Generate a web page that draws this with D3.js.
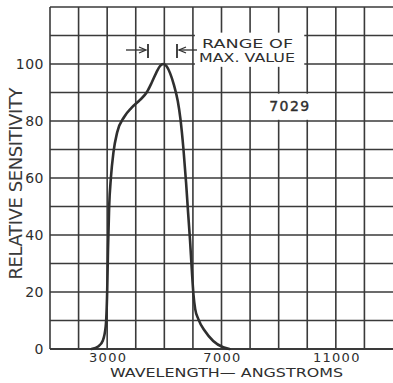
<!DOCTYPE html>
<html>
<head>
<meta charset="utf-8">
<script src="https://cdn.jsdelivr.net/npm/d3@7"></script>
<style>
html, body { margin: 0; padding: 0; background: #fff; }
svg { display: block; }
text { font-family: "DejaVu Sans", sans-serif; fill: #2e2e2e; }
</style>
</head>
<body>
<div id="chart"></div>
<script>
// Data
const wavelengths = [2450, 2700, 2850, 2950, 3000, 3030, 3070, 3130, 3220, 3350, 3600, 3850, 4150, 4380, 4560, 4720, 4850, 4960, 5080, 5200, 5340, 5470, 5560, 5670, 5760, 5830, 5900, 5960, 6020, 6080, 6190, 6420, 6710, 7060, 7280];
const sensitivity = [0, 1, 3, 8, 20, 35, 50, 60, 69, 76, 81.5, 84.6, 87.4, 90, 93.5, 97, 99.3, 100, 99.2, 96.8, 92.5, 87, 81, 70, 58.5, 48, 38, 28, 19, 14, 10.5, 6.3, 2.8, 0.6, 0];
const xGridValues = [1000, 2000, 3000, 4000, 5000, 6000, 7000, 8000, 9000, 10000, 11000, 12000];
const yGridValues = [0, 10, 20, 30, 40, 50, 60, 70, 80, 90, 100, 110, 120];
const xTickLabels = [3000, 7000, 11000];
const yTickLabels = [0, 20, 40, 60, 80, 100];
const xTitle = "WAVELENGTH\u2014 ANGSTROMS";
const yTitle = "RELATIVE SENSITIVITY";
const tubeLabel = "7029";
const rangeLabel = ["RANGE OF", "MAX. VALUE"];

const W = 393, H = 383;
const svg = d3.select("#chart").append("svg").attr("width", W).attr("height", H);
svg.append("rect").attr("width", W).attr("height", H).attr("fill", "#fff");

const x = d3.scaleLinear().domain([1000, 13000]).range([50, 393]);
const y = d3.scaleLinear().domain([0, 120]).range([349, 7]);

const gridColor = "#3a3a3a";
const g = svg.append("g");

// grid
g.selectAll("line.v").data(xGridValues).join("line")
  .attr("x1", d => x(d)).attr("x2", d => x(d))
  .attr("y1", y(120)).attr("y2", y(0))
  .attr("stroke", gridColor).attr("stroke-width", 1.6);
g.selectAll("line.h").data(yGridValues).join("line")
  .attr("x1", x(1000)).attr("x2", W + 2)
  .attr("y1", d => y(d)).attr("y2", d => y(d))
  .attr("stroke", gridColor).attr("stroke-width", d => d === 0 ? 1.9 : 1.6);

// white label boxes over grid
svg.append("rect")
  .attr("x", x(8000) + 1.2).attr("y", y(90) + 1.2)
  .attr("width", x(11000) - x(8000) - 2.4).attr("height", y(80) - y(90) - 2.4)
  .attr("fill", "#fff");
svg.append("rect")
  .attr("x", x(6000) + 2).attr("y", y(111))
  .attr("width", x(10000) - x(6000) - 5).attr("height", y(99) - y(111))
  .attr("fill", "#fff");

// curve
const line = d3.line()
  .x((d, i) => x(wavelengths[i]))
  .y(d => y(d))
  .curve(d3.curveMonotoneX);
svg.append("path").datum(sensitivity)
  .attr("d", line)
  .attr("fill", "none").attr("stroke", "#2f2f2f").attr("stroke-width", 2.6)
  .attr("stroke-linejoin", "round").attr("stroke-linecap", "round");

// Y tick labels
svg.selectAll("text.yt").data(yTickLabels).join("text")
  .attr("class", "yt")
  .attr("x", 44).attr("y", d => y(d)).attr("dy", "0.36em")
  .attr("text-anchor", "end").attr("font-size", 14).attr("letter-spacing", 0.5)
  .text(d => d);

// X tick labels
svg.selectAll("text.xt").data(xTickLabels).join("text")
  .attr("class", "xt")
  .attr("x", d => x(d) + 1).attr("y", 362)
  .attr("text-anchor", "middle").attr("font-size", 13).attr("letter-spacing", 1.3)
  .text(d => d);

// Axis titles
svg.append("text")
  .attr("x", 226.5).attr("y", 376.5)
  .attr("text-anchor", "middle").attr("font-size", 13)
  .attr("textLength", 233).attr("lengthAdjust", "spacingAndGlyphs")
  .text(xTitle);
svg.append("text")
  .attr("transform", "translate(22,183.5) rotate(-90)")
  .attr("text-anchor", "middle").attr("font-size", 18)
  .attr("textLength", 192).attr("lengthAdjust", "spacing")
  .style("fill", "#3a3a3a")
  .text(yTitle);

// 7029 label
svg.append("text")
  .attr("x", (x(8000) + x(11000)) / 2 - 3).attr("y", 111)
  .attr("text-anchor", "middle").attr("font-size", 14)
  .attr("letter-spacing", 1.5)
  .attr("stroke", "#2e2e2e").attr("stroke-width", 0.4)
  .text(tubeLabel);

// Range of max value annotation
const ann = svg.append("g");
ann.append("text").attr("x", 202).attr("y", 47.5).attr("font-size", 12.5)
  .attr("textLength", 91).attr("lengthAdjust", "spacingAndGlyphs").text(rangeLabel[0]);
ann.append("text").attr("x", 199).attr("y", 61.5).attr("font-size", 12.5)
  .attr("textLength", 96).attr("lengthAdjust", "spacingAndGlyphs").text(rangeLabel[1]);

const ay = 50;
const stroke = "#2f2f2f";
// left arrow -> |
ann.append("line").attr("x1", 126).attr("x2", 145).attr("y1", ay).attr("y2", ay)
  .attr("stroke", stroke).attr("stroke-width", 1.3);
ann.append("path").attr("d", `M139,${ay - 3} L146,${ay} L139,${ay + 3}`)
  .attr("fill", "none").attr("stroke", stroke).attr("stroke-width", 1.3);
ann.append("line").attr("x1", 148).attr("x2", 148).attr("y1", 44).attr("y2", 58)
  .attr("stroke", stroke).attr("stroke-width", 1.8);
// | <- right arrow
ann.append("line").attr("x1", 177).attr("x2", 177).attr("y1", 44).attr("y2", 58)
  .attr("stroke", stroke).attr("stroke-width", 1.8);
ann.append("line").attr("x1", 179).attr("x2", 197).attr("y1", ay).attr("y2", ay)
  .attr("stroke", stroke).attr("stroke-width", 1.3);
ann.append("path").attr("d", `M186,${ay - 3} L179,${ay} L186,${ay + 3}`)
  .attr("fill", "none").attr("stroke", stroke).attr("stroke-width", 1.3);
</script>
</body>
</html>
